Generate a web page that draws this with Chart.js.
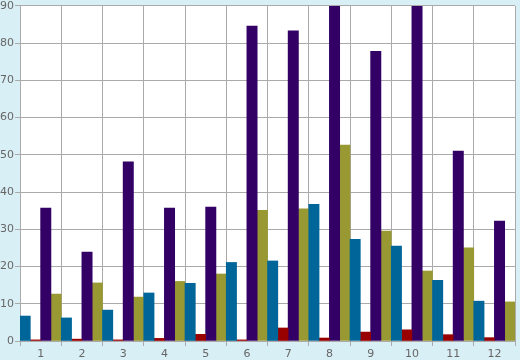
<!DOCTYPE html>
<html>
<head>
<meta charset="utf-8">
<script src="https://cdn.jsdelivr.net/npm/chart.js@4"></script>
<style>
  html, body { margin: 0; padding: 0; background: #d9eff6; }
  #wrap { width: 520px; height: 360px; }
</style>
</head>
<body>
<div id="wrap"><canvas id="c" width="520" height="360"></canvas></div>
<script>
const labels = ['1','2','3','4','5','6','7','8','9','10','11','12'];
const tealVals   = [6.7, 6.2, 8.3, 12.9, 15.5, 21.1, 21.5, 36.7, 27.3, 25.5, 16.3, 10.7];
const redVals    = [0.3, 0.5, 0.3, 0.7, 1.8, 0.3, 3.5, 0.8, 2.4, 3.0, 1.7, 0.9];
const purpleVals = [35.7, 23.9, 48.1, 35.7, 36.0, 84.6, 83.3, 95, 77.8, 95, 51.0, 32.2];
const oliveVals  = [12.6, 15.6, 11.8, 16.0, 18.0, 35.1, 35.5, 52.6, 29.5, 18.8, 25.0, 10.5];
const yTicks = [0, 10, 20, 30, 40, 50, 60, 70, 80, 90];

// white plot area on the light blue page
const plotBg = {
  id: 'plotBg',
  beforeDraw(chart) {
    const a = chart.chartArea, ctx = chart.ctx;
    ctx.save();
    ctx.fillStyle = '#ffffff';
    ctx.fillRect(a.left, a.top, a.right - a.left, a.bottom - a.top);
    ctx.restore();
  }
};

const mk = (data, color) => ({
  data, backgroundColor: color, borderWidth: 0,
  barPercentage: 1, categoryPercentage: 1
});

new Chart(document.getElementById('c'), {
  type: 'bar',
  data: {
    labels,
    datasets: [
      mk(tealVals, '#006699'),
      mk(redVals, '#990000'),
      mk(purpleVals, '#330066'),
      mk(oliveVals, '#999933')
    ]
  },
  options: {
    responsive: false,
    animation: false,
    layout: { padding: { top: 5, right: 5, left: 0, bottom: 0 } },
    plugins: { legend: { display: false }, tooltip: { enabled: false } },
    scales: {
      x: {
        offset: true,
        grid: { offset: true, color: '#aaaaaa', tickLength: 5, lineWidth: 1 },
        border: { display: true, color: '#aaaaaa' },
        ticks: { color: '#666666', font: { family: 'DejaVu Sans', size: 11 }, padding: 2, maxRotation: 0 },
        afterFit(axis) { axis.height = 19; }
      },
      y: {
        min: 0, max: 90,
        afterBuildTicks(axis) { axis.ticks = yTicks.map(v => ({ value: v })); },
        grid: { color: '#aaaaaa', tickLength: 5, lineWidth: 1 },
        border: { display: true, color: '#aaaaaa' },
        ticks: { color: '#666666', font: { family: 'DejaVu Sans', size: 11, lineHeight: 0.9 }, padding: 1 },
        afterFit(axis) { axis.width = 20; }
      }
    }
  },
  plugins: [plotBg]
});
</script>
</body>
</html>
